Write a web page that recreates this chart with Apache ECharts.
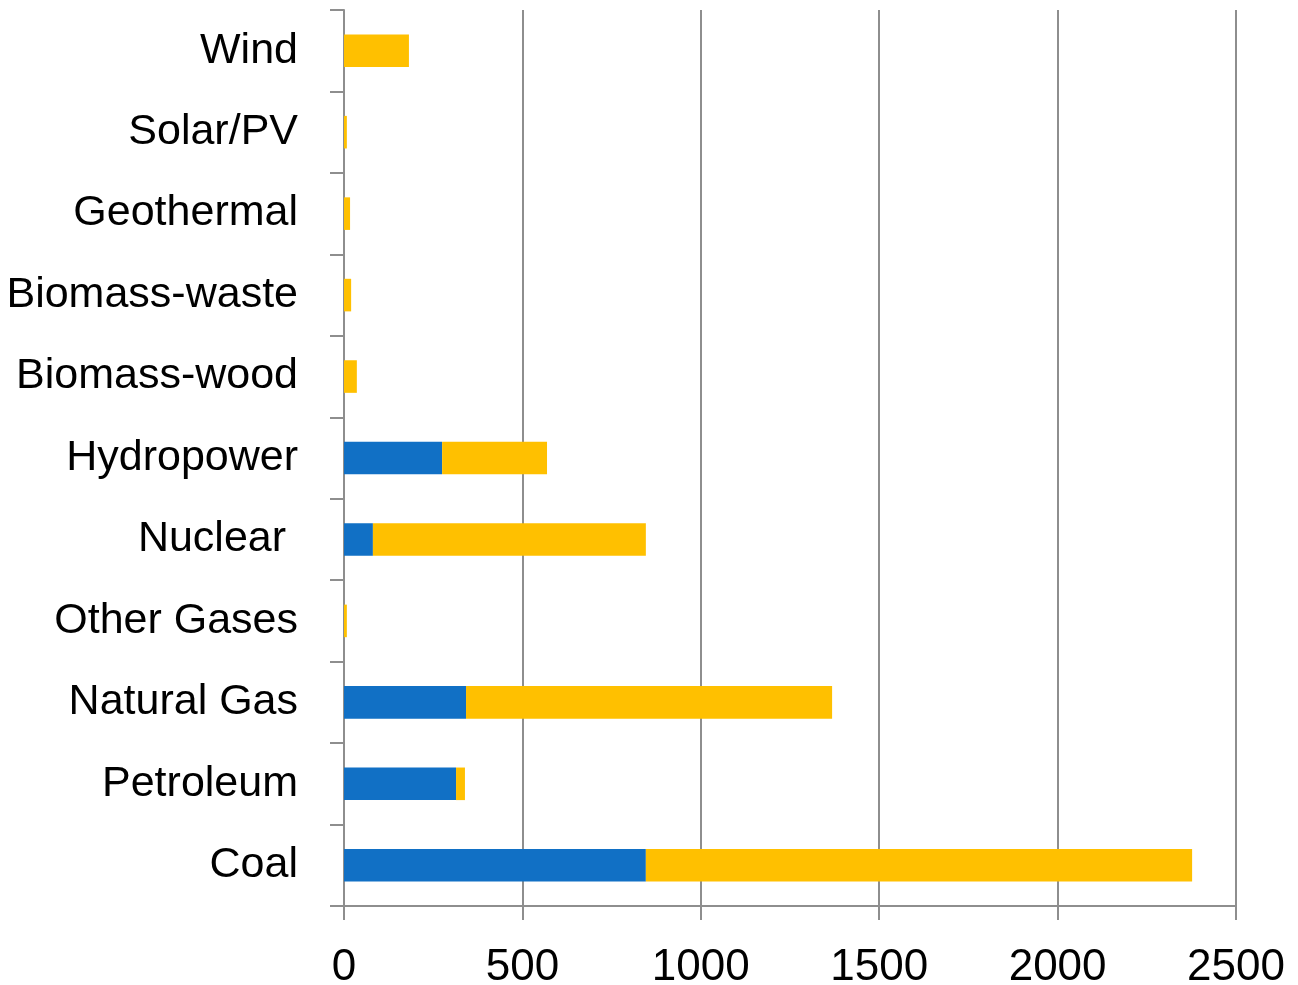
<!DOCTYPE html>
<html>
<head>
<meta charset="utf-8">
<script src="https://cdn.jsdelivr.net/npm/echarts@6/dist/echarts.min.js"></script>
<style>
  html, body { margin: 0; padding: 0; background: #fff; }
  #chart { width: 1298px; height: 985px; }
</style>
</head>
<body>
<div id="chart"></div>
<script>
// Energy sources, bottom to top
const categories = ['Coal', 'Petroleum', 'Natural Gas', 'Other Gases', 'Nuclear ', 'Hydropower',
  'Biomass-wood', 'Biomass-waste', 'Geothermal', 'Solar/PV', 'Wind'];
// First (blue) segment of each stacked bar
const seriesBlue = [846, 314, 342, 0, 81, 275, 0, 0, 0, 0, 0];
// Second (gold) segment of each stacked bar
const seriesGold = [1531, 25, 1026, 8, 765, 294, 36, 20, 17, 8, 182];
const xTicks = [0, 500, 1000, 1500, 2000, 2500];

const axisGrey = '#8e8e8e';
const font = 'Liberation Sans, Arial, sans-serif';

const chart = echarts.init(document.getElementById('chart'));
chart.setOption({
  animation: false,
  backgroundColor: '#ffffff',
  grid: { left: 344, right: 62, top: 10, bottom: 79, containLabel: false, outerBoundsMode: 'none' },
  xAxis: {
    type: 'value',
    min: xTicks[0],
    max: xTicks[xTicks.length - 1],
    interval: xTicks[1] - xTicks[0],
    axisLine: { show: true, lineStyle: { color: axisGrey, width: 2 } },
    axisTick: { show: true, length: 14, lineStyle: { color: axisGrey, width: 2 } },
    splitLine: { show: true, lineStyle: { color: axisGrey, width: 2 } },
    axisLabel: {
      color: '#000', fontFamily: font, fontSize: 44, margin: 40,
      formatter: (v) => String(v)
    }
  },
  yAxis: {
    type: 'category',
    data: categories,
    axisLine: { show: true, lineStyle: { color: axisGrey, width: 2 } },
    axisTick: { show: true, length: 14, alignWithLabel: false, lineStyle: { color: axisGrey, width: 2 } },
    splitLine: { show: false },
    axisLabel: { color: '#000', fontFamily: font, fontSize: 43, margin: 46, padding: [4, 0, 0, 0] }
  },
  series: [
    {
      type: 'bar', stack: 'total', data: seriesBlue, barWidth: '40%',
      itemStyle: { color: '#1170c5' }
    },
    {
      type: 'bar', stack: 'total', data: seriesGold, barWidth: '40%',
      itemStyle: { color: '#ffc000' }
    }
  ]
});
</script>
</body>
</html>
